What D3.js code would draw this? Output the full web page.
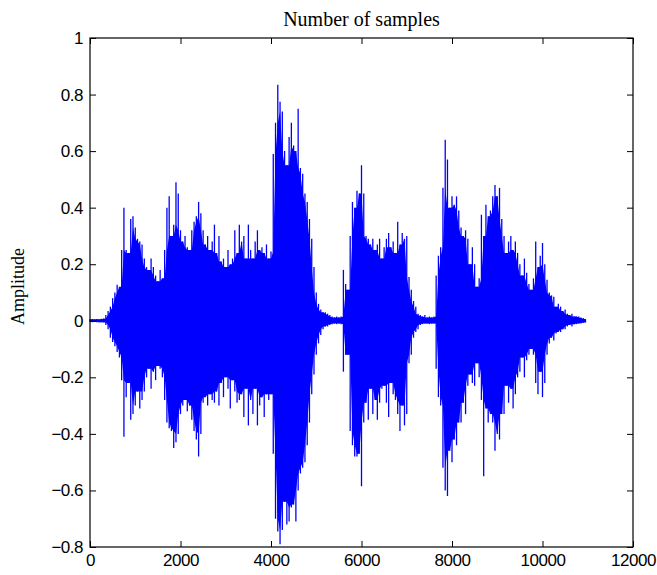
<!DOCTYPE html>
<html>
<head>
<meta charset="utf-8">
<script src="https://cdn.jsdelivr.net/npm/d3@7/dist/d3.min.js"></script>
<style>
    body { margin: 0; background: #fff; }
    svg { display: block; }
    .tick-label { font-family: "Liberation Sans", Arial, sans-serif; font-size: 17px; letter-spacing: -0.5px; fill: #000; }
    .title { font-family: "Liberation Serif", "Times New Roman", serif; font-size: 20px; fill: #000; }
    .ylabel { font-family: "Liberation Serif", "Times New Roman", serif; font-size: 18px; fill: #000; }
</style>
</head>
<body>
<svg id="chart" width="657" height="575"></svg>
<script>
// waveform envelope, one pair every 50 samples
var sampleStep = 50;
var upperPeaks = [
    .005, .006, .005, .006, .005, .007, .008, .02, .035, .05,
    .08, .10, .127, .12, .25, .40, .25, .24, .36, .37,
    .33, .29, .28, .27, .22, .19, .18, .22, .19, .16,
    .14, .18, .15, .25, .40, .44, .30, .34, .49, .45,
    .32, .28, .30, .26, .25, .32, .35, .37, .42, .38,
    .32, .27, .30, .25, .28, .34, .24, .30, .21, .22,
    .19, .25, .20, .22, .32, .24, .34, .28, .30, .22,
    .34, .25, .22, .28, .32, .25, .26, .24, .27, .22,
    .245, .59, .70, .835, .775, .74, .60, .55, .65, .70,
    .62, .60, .75, .54, .52, .45, .42, .36, .29, .19,
    .10, .06, .04, .03, .03, .025, .02, .015, .012, .015,
    .012, .015, .18, .13, .11, .30, .42, .40, .46, .45,
    .55, .45, .30, .29, .27, .29, .25, .27, .29, .22,
    .26, .29, .31, .26, .28, .24, .35, .27, .31, .29,
    .30, .155, .11, .07, .05, .025, .02, .015, .02, .012,
    .015, .012, .015, .16, .23, .26, .47, .64, .57, .40,
    .44, .41, .44, .39, .33, .30, .32, .29, .20, .26,
    .20, .12, .15, .375, .30, .41, .37, .39, .44, .48,
    .44, .47, .36, .30, .24, .28, .30, .25, .28, .24,
    .20, .16, .22, .17, .13, .11, .15, .28, .19, .23,
    .275, .20, .145, .10, .09, .085, .05, .06, .05, .035,
    .04, .025, .02, .025, .015, .015, .015, .012, .01, .006
];
var lowerPeaks = [
    -.004, -.005, -.004, -.005, -.005, -.005, -.006, -.015, -.03, -.06,
    -.075, -.09, -.11, -.13, -.21, -.41, -.27, -.22, -.35, -.33,
    -.30, -.25, -.31, -.28, -.25, -.20, -.17, -.24, -.18, -.21,
    -.16, -.17, -.20, -.28, -.36, -.38, -.39, -.45, -.43, -.40,
    -.33, -.30, -.28, -.32, -.30, -.35, -.39, -.42, -.48, -.40,
    -.29, -.27, -.30, -.26, -.28, -.29, -.25, -.30, -.22, -.27,
    -.20, -.24, -.31, -.21, -.25, -.29, -.28, -.26, -.34, -.24,
    -.37, -.28, -.33, -.24, -.37, -.30, -.27, -.34, -.26, -.28,
    -.26, -.47, -.70, -.745, -.79, -.74, -.64, -.72, -.71, -.66,
    -.65, -.71, -.60, -.54, -.52, -.50, -.44, -.36, -.26, -.19,
    -.12, -.08, -.05, -.03, -.02, -.02, -.015, -.012, -.01, -.012,
    -.01, -.012, -.18, -.12, -.12, -.39, -.44, -.48, -.48, -.47,
    -.585, -.36, -.29, -.35, -.24, -.33, -.28, -.35, -.29, -.24,
    -.23, -.29, -.34, -.22, -.26, -.28, -.33, -.39, -.30, -.37,
    -.33, -.15, -.12, -.06, -.04, -.03, -.015, -.012, -.01, -.01,
    -.012, -.01, -.01, -.17, -.27, -.30, -.52, -.60, -.62, -.46,
    -.50, -.42, -.44, -.36, -.36, -.29, -.33, -.23, -.19, -.22,
    -.23, -.15, -.20, -.28, -.55, -.31, -.36, -.33, -.36, -.46,
    -.40, -.42, -.33, -.33, -.23, -.29, -.24, -.31, -.26, -.20,
    -.18, -.13, -.20, -.14, -.12, -.10, -.12, -.22, -.26, -.18,
    -.27, -.22, -.12, -.08, -.06, -.07, -.045, -.04, -.04, -.03,
    -.03, -.02, -.015, -.02, -.012, -.012, -.01, -.01, -.008, -.006
];

var xTicks = [0, 2000, 4000, 6000, 8000, 10000, 12000];
var yTicks = [-0.8, -0.6, -0.4, -0.2, 0, 0.2, 0.4, 0.6, 0.8, 1];
var titleText = 'Number of samples';
var yLabelText = 'Amplitude';


var margin = { left: 90, right: 24, top: 38, bottom: 28 },
    svg = d3.select('#chart'),
    width = +svg.attr('width') - margin.left - margin.right,
    height = +svg.attr('height') - margin.top - margin.bottom,
    tickLength = 6;

var x = d3.scaleLinear().domain([0, 12000]).range([0, width]),
    y = d3.scaleLinear().domain([-0.8, 1]).range([height, 0]);

var g = svg.append('g')
    .attr('transform', 'translate(' + margin.left + ',' + margin.top + ')');

var points = upperPeaks.map(function(hi, i) {
    return { s: i * sampleStep, hi: hi, lo: lowerPeaks[i] };
});

// the dense body: smallest excursion among neighbours, so the peaks stick out
var body = points.map(function(p, i) {
    var near = points.slice(Math.max(0, i - 1), i + 2);
    return {
        s: p.s,
        hi: d3.min(near, function(d) { return d.hi; }),
        lo: d3.max(near, function(d) { return d.lo; })
    };
});

g.append('path')
    .datum(body)
    .attr('fill', '#0000ff')
    .attr('d', d3.area()
        .x(function(d) { return x(d.s); })
        .y0(function(d) { return y(d.lo); })
        .y1(function(d) { return y(d.hi); }));

// one vertical stroke per envelope point, peak to trough
g.append('g')
    .attr('class', 'peaks')
    .selectAll('line')
    .data(points)
    .enter().append('line')
        .attr('x1', function(d) { return x(d.s); })
        .attr('x2', function(d) { return x(d.s); })
        .attr('y1', function(d) { return y(d.hi); })
        .attr('y2', function(d) { return y(d.lo); })
        .attr('stroke', '#0000ff')
        .attr('stroke-width', 1.3);


// box and inward ticks on all four sides
//
var axisStyle = function(sel) {
    sel.select('.domain').remove();
    sel.selectAll('.tick line').attr('stroke', '#000');
    sel.selectAll('.tick text').attr('class', 'tick-label').attr('fill', '#000');
};

g.append('g')
    .attr('transform', 'translate(0,' + height + ')')
    .call(d3.axisBottom(x).tickValues(xTicks).tickSize(-tickLength).tickPadding(7).tickFormat(d3.format('d')))
    .call(axisStyle);

g.append('g')
    .call(d3.axisTop(x).tickValues(xTicks).tickSize(-tickLength).tickFormat(''))
    .call(axisStyle);

g.append('g')
    .call(d3.axisLeft(y).tickValues(yTicks).tickSize(-tickLength).tickPadding(7).tickFormat(function(d) { return d3.format('')(+d.toFixed(1)); }))
    .call(axisStyle);

g.append('g')
    .attr('transform', 'translate(' + width + ',0)')
    .call(d3.axisRight(y).tickValues(yTicks).tickSize(-tickLength).tickFormat(''))
    .call(axisStyle);

g.append('rect')
    .attr('width', width)
    .attr('height', height)
    .attr('fill', 'none')
    .attr('stroke', '#000')
    .attr('stroke-width', 1.2);

svg.append('text')
    .attr('class', 'title')
    .attr('x', margin.left + width / 2)
    .attr('y', margin.top - 12)
    .attr('text-anchor', 'middle')
    .text(titleText);

svg.append('text')
    .attr('class', 'ylabel')
    .attr('transform', 'translate(24,' + (margin.top + height / 2 - 6) + ') rotate(-90)')
    .attr('text-anchor', 'middle')
    .text(yLabelText);
</script>
</body>
</html>
